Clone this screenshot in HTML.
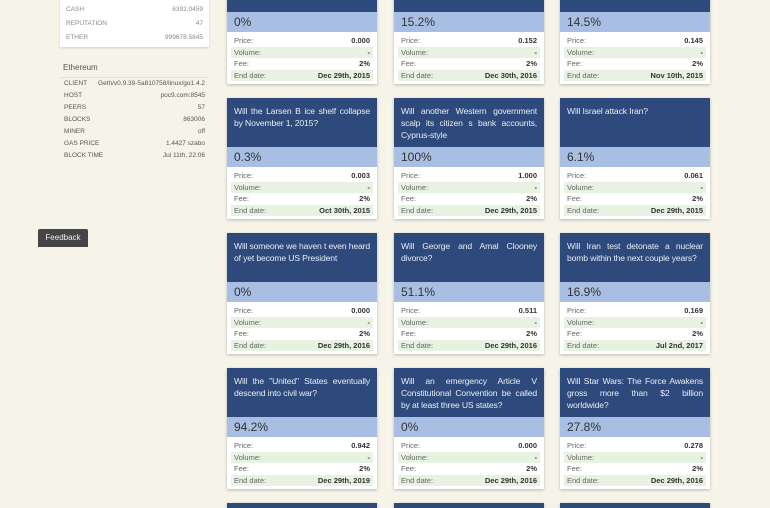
<!DOCTYPE html>
<html style="overflow:hidden;height:508px"><head><style>
body{margin:0;width:770px;height:508px;overflow:hidden;background:#f6f4e9;font-family:"Liberation Sans",sans-serif;position:relative}
.card{position:absolute;width:150px;height:121px;background:#fff;box-shadow:0 1px 3px rgba(0,0,0,.25);overflow:hidden}
.hd{height:49px;background:#2e4a7c;color:#e8ecf4;font-size:8.6px;letter-spacing:-0.15px;line-height:12px;padding:7px 7px 0;box-sizing:border-box;text-align:justify;overflow:hidden}
.pc{height:20px;background:#a8bee2;color:#333;font-size:12px;line-height:20px;padding-left:7px}
.bd{padding:3px 4px 0}
.r{height:11.5px;font-size:7.5px;line-height:11.5px;color:#666;padding:0 3px;display:flex;justify-content:space-between}
.r b{color:#333}
.r:nth-child(even){background:#e7f2e2}
.lp{position:absolute;left:60px;width:149px;font-size:6.5px;color:#555}
.lr{display:flex;justify-content:space-between;height:12px;line-height:12px;padding:0 4px}
</style></head><body>
<div class="lp" style="top:-6px;height:53px;background:#fff;box-shadow:0 1px 2px rgba(0,0,0,.15)">
<div style="padding-top:9px"></div>
<div class="lr" style="height:14px;line-height:14px;padding:0 6px;color:#888"><span>CASH</span><span>6392.0459</span></div>
<div class="lr" style="height:14px;line-height:14px;padding:0 6px;color:#888"><span>REPUTATION</span><span>47</span></div>
<div class="lr" style="height:14px;line-height:14px;padding:0 6px;color:#888"><span>ETHER</span><span>999678.5845</span></div>
</div>
<div class="lp" style="top:63px;">
<div style="font-size:8px;color:#555;padding:0 3px 5px;border-bottom:1px solid #e4e0d2">Ethereum</div>
<div class="lr"><span>CLIENT</span><span>Geth/v0.9.39-5a810758/linux/go1.4.2</span></div>
<div class="lr"><span>HOST</span><span>poc9.com:8545</span></div>
<div class="lr"><span>PEERS</span><span>57</span></div>
<div class="lr"><span>BLOCKS</span><span>863006</span></div>
<div class="lr"><span>MINER</span><span>off</span></div>
<div class="lr"><span>GAS PRICE</span><span>1.4427 szabo</span></div>
<div class="lr"><span>BLOCK TIME</span><span>Jul 11th, 22:06</span></div>
</div>
<div style="position:absolute;left:38px;top:229px;width:50px;height:18px;background:#454545;color:#eee;font-size:8px;line-height:18px;text-align:center;border-radius:2px 2px 0 0">Feedback</div>
<div id="c"></div>
<script>
var d=[
["Will something happen before the end of 2015?","0%","0.000","Dec 29th, 2015"],
["Will something happen before the end of 2016?","15.2%","0.152","Dec 30th, 2016"],
["Will something happen before November of 2015?","14.5%","0.145","Nov 10th, 2015"],
["Will the Larsen B ice shelf collapse by November 1, 2015?","0.3%","0.003","Oct 30th, 2015"],
["Will another Western government scalp its citizen s bank accounts, Cyprus-style","100%","1.000","Dec 29th, 2015"],
["Will Israel attack Iran?","6.1%","0.061","Dec 29th, 2015"],
["Will someone we haven t even heard of yet become US President","0%","0.000","Dec 29th, 2016"],
["Will George and Amal Clooney divorce?","51.1%","0.511","Dec 29th, 2016"],
["Will Iran test detonate a nuclear bomb within the next couple years?","16.9%","0.169","Jul 2nd, 2017"],
["Will the \"United\" States eventually descend into civil war?","94.2%","0.942","Dec 29th, 2019"],
["Will an emergency Article V Constitutional Convention be called by at least three US states?","0%","0.000","Dec 29th, 2016"],
["Will Star Wars: The Force Awakens gross more than $2 billion worldwide?","27.8%","0.278","Dec 29th, 2016"],
["","","",""],["","","",""],["","","",""]];
var xs=[227,394,560],ys=[-37,98,233,368,503],h="";
d.forEach(function(c,i){var r=Math.floor(i/3);h+='<div class="card" style="left:'+xs[i%3]+'px;top:'+ys[r]+'px'+(r==4?';height:5px':'')+'"><div class="hd">'+c[0]+'</div><div class="pc">'+c[1]+'</div><div class="bd"><div class="r"><span>Price:</span><b>'+c[2]+'</b></div><div class="r"><span>Volume:</span><b>-</b></div><div class="r"><span>Fee:</span><b>2%</b></div><div class="r"><span>End date:</span><b>'+c[3]+'</b></div></div></div>';});
document.getElementById("c").innerHTML=h;
</script>
</body></html>
